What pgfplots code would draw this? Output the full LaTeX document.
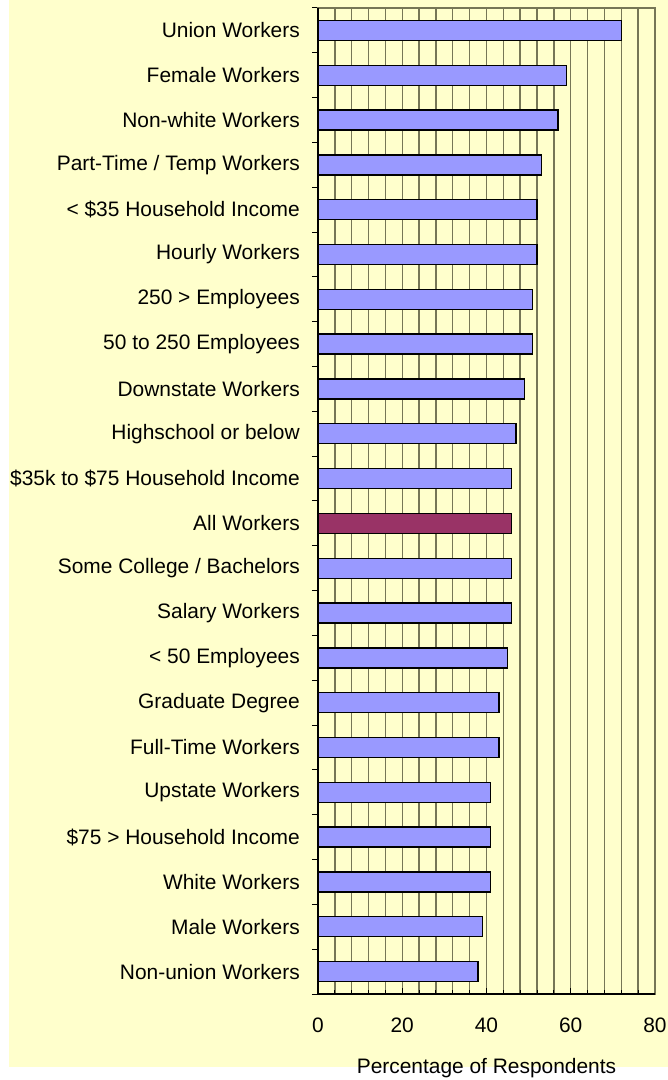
\documentclass[border=0pt]{standalone}
\usepackage{fontspec}
\setmainfont{Liberation Sans}
\usepackage{pgfplots}
\pgfplotsset{compat=1.18}
\definecolor{bg}{HTML}{FFFFCC}
\definecolor{barblue}{HTML}{9999FF}
\definecolor{barred}{HTML}{993366}
\definecolor{gridc}{HTML}{767656}
\begin{document}
\begin{tikzpicture}
\useasboundingbox (0bp,0bp) rectangle (668bp,1080bp);
\fill[white] (0bp,0bp) rectangle (668bp,1080bp);
\fill[bg] (9bp,13bp) rectangle (668bp,1080bp);
\begin{axis}[
  at={(318bp,86bp)}, anchor=south west,
  scale only axis, width=337bp, height=986bp,
  xbar, bar shift=0pt, bar width=20bp,
  xmin=0, xmax=80, ymin=-0.5, ymax=21.5,
  xtick={0,20,...,80}, minor x tick num=4,
  xmajorgrids, xminorgrids,
  grid style={draw=gridc, line width=1.4bp},
  minor grid style={draw=gridc, line width=1.4bp},
  axis line style={draw=gridc, line width=1.4bp},
  xtick pos=bottom, ytick pos=left,
  xtick align=inside, ytick align=outside,
  major tick length=6bp, minor tick length=4bp,
  tick style={draw=black, line width=1bp},
  ytick={-0.5,0.5,...,21.5},
  yticklabels={Non-union Workers, Male Workers, White Workers, \$75 > Household Income, Upstate Workers, Full-Time Workers, Graduate Degree, < 50 Employees, Salary Workers, Some College / Bachelors, All Workers, \$35k to \$75 Household Income, Highschool or below, Downstate Workers, 50 to 250 Employees, 250 > Employees, Hourly Workers, < \$35 Household Income, Part-Time / Temp Workers, Non-white Workers, Female Workers, Union Workers, {}},
  yticklabel style={font=\fontsize{21}{24}\selectfont, inner sep=0pt, xshift=-12bp, yshift=22.41bp},
  xticklabel style={font=\fontsize{21}{24}\selectfont, inner sep=0pt, yshift=-24bp},
  /pgf/number format/assume math mode=true,
  xlabel={Percentage of Respondents},
  xlabel style={font=\fontsize{21}{24}\selectfont, at={(axis description cs:0.5,0)}, anchor=base, yshift=-79bp},
  clip=false,
]
\addplot[draw=black, line width=1.3bp, fill=barblue] coordinates {
(38,0) (39,1) (41,2) (41,3) (41,4) (43,5) (43,6) (45,7) (46,8) (46,9)
(46,11) (47,12) (49,13) (51,14) (51,15) (52,16) (52,17) (53,18) (57,19) (59,20) (72,21)};
\addplot[draw=black, line width=1.3bp, fill=barred] coordinates {(46,10)};
\draw[black, line width=1.3bp] (rel axis cs:0,1) -- (rel axis cs:0,0) -- (rel axis cs:1,0);
\end{axis}
\end{tikzpicture}
\end{document}
